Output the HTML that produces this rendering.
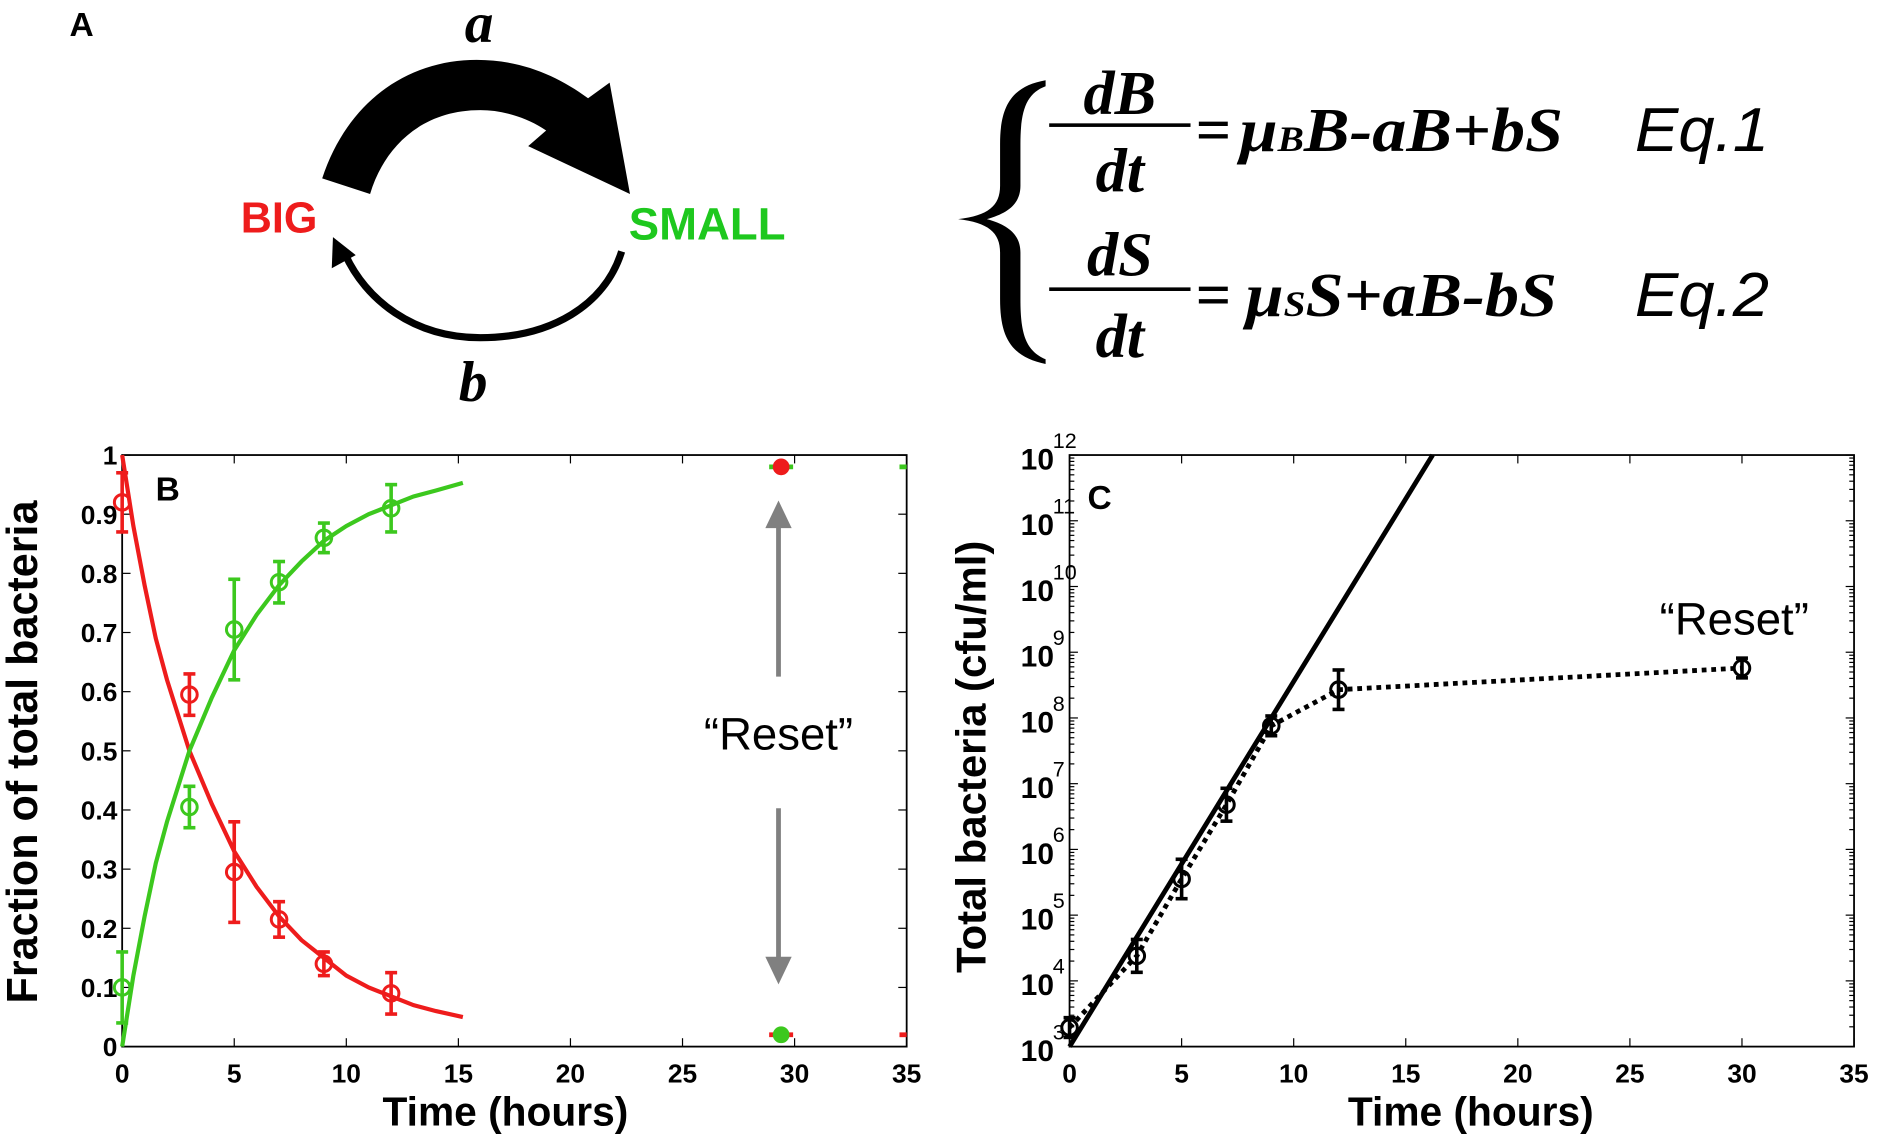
<!DOCTYPE html>
<html><head><meta charset="utf-8"><style>
html,body{margin:0;padding:0;background:#fff;}
svg{display:block;}
.tk{font-family:"Liberation Sans",sans-serif;font-weight:bold;font-size:22px;}
.tkc{font-family:"Liberation Sans",sans-serif;font-weight:bold;font-size:25px;}
</style></head><body>
<svg id="fig" width="1878" height="1140" viewBox="0 0 1568 952" preserveAspectRatio="none" xmlns="http://www.w3.org/2000/svg">
<g>
<text x="58" y="30" font-family="Liberation Sans,sans-serif" font-weight="bold" font-size="28">A</text>
<text x="400" y="35" text-anchor="middle" font-family="Liberation Serif,serif" font-style="italic" font-weight="bold" font-size="48">a</text>
<path d="M269,149 C290,85 340,50 398,50 C435,50 465,63 491,82 L509,69 L526,162 L441,122 L456,109 C440,98 420,92 401,92 C350,92 320,125 309,162 Z" fill="#000"/>
<path d="M519,210 C505,255 460,282 401,282 C345,282 305,250 288,212" fill="none" stroke="#000" stroke-width="6"/>
<polygon points="278,198 277,224 297,213" fill="#000"/>
<text x="395" y="335" text-anchor="middle" font-family="Liberation Serif,serif" font-style="italic" font-weight="bold" font-size="48">b</text>
<text x="201" y="194" font-family="Liberation Sans,sans-serif" font-weight="bold" font-size="36" fill="#ee1c1c">BIG</text>
<text x="525" y="200" font-family="Liberation Sans,sans-serif" font-weight="bold" font-size="38" fill="#1ec81e">SMALL</text>
<path d="M873,67 C845,72 835,88 835,120 L835,155 C835,172 825,180 800,183 C825,186 835,194 835,211 L835,250 C835,283 845,298 873,304 L873,300 C857,293 852,280 852,250 L852,211 C852,196 842,188 824,183 C842,178 852,170 852,155 L852,120 C852,92 857,78 873,72 Z" fill="#000"/>
<g font-family="Liberation Serif,serif" font-style="italic" font-weight="bold" font-size="52">
<text x="935" y="95" text-anchor="middle">dB</text>
<rect x="876" y="103" width="118" height="3" fill="#000"/>
<text x="935" y="160" text-anchor="middle">dt</text>
<text x="998" y="126">=</text>
<text x="1035" y="126" textLength="270" lengthAdjust="spacingAndGlyphs">μ<tspan font-size="30">B</tspan>B-aB+bS</text>
<text x="1365" y="126" font-family="Liberation Sans,sans-serif" font-weight="normal" font-size="52" textLength="112" lengthAdjust="spacingAndGlyphs">Eq.1</text>
</g>
<g font-family="Liberation Serif,serif" font-style="italic" font-weight="bold" font-size="52">
<text x="935" y="230" text-anchor="middle">dS</text>
<rect x="876" y="240" width="118" height="3" fill="#000"/>
<text x="935" y="298" text-anchor="middle">dt</text>
<text x="998" y="264">=</text>
<text x="1040" y="264" textLength="260" lengthAdjust="spacingAndGlyphs">μ<tspan font-size="30">S</tspan>S+aB-bS</text>
<text x="1365" y="264" font-family="Liberation Sans,sans-serif" font-weight="normal" font-size="52" textLength="112" lengthAdjust="spacingAndGlyphs">Eq.2</text>
</g>
</g>
<g id="panelB"></g>
<g id="panelC"></g>
</svg>
<script>
// Panel B data
const bTimes = [0, 3, 5, 7, 9, 12];
const bBig = [0.92, 0.595, 0.295, 0.215, 0.14, 0.09];
const bBigErr = [0.05, 0.035, 0.085, 0.03, 0.02, 0.035];
const bSmall = [0.10, 0.405, 0.705, 0.785, 0.86, 0.91];
const bSmallErr = [0.06, 0.035, 0.085, 0.035, 0.025, 0.04];
const bFitTimes = [0,0.5,1,1.5,2,3,4,5,6,7,8,9,10,11,12,13,14,15.2];
const bFitBig = [1,0.88,0.78,0.69,0.62,0.50,0.41,0.33,0.27,0.22,0.18,0.15,0.12,0.10,0.085,0.07,0.06,0.05];
const bFitSmall = [0,0.12,0.22,0.31,0.38,0.50,0.59,0.67,0.73,0.78,0.82,0.855,0.88,0.90,0.915,0.93,0.94,0.953];
const bResetTime = [29.4];
const bResetBig = [0.98];
const bResetSmall = [0.02];
const bXTicks = [0,5,10,15,20,25,30,35];
const bYTicks = [0,0.1,0.2,0.3,0.4,0.5,0.6,0.7,0.8,0.9,1];
// Panel C data
const cTimes = [0, 3, 5, 7, 9, 12, 30];
const cLogVals = [3.29, 4.38, 5.55, 6.68, 7.88, 8.43, 8.76];
const cLogErr = [0.15, 0.25, 0.3, 0.25, 0.15, 0.3, 0.15];
const cFitTimes = [0, 16.2];
const cFitLog = [3, 12];
const cXTicks = [0,5,10,15,20,25,30,35];
const cYTicks = [3,4,5,6,7,8,9,10,11,12];

const NS = "http://www.w3.org/2000/svg";
function mk(parent, tag, attrs){const e=document.createElementNS(NS,tag);for(const k in attrs)e.setAttribute(k,attrs[k]);parent.appendChild(e);return e;}
const RED="#ee1c1c", GREEN="#3cc81e";

// ---- Panel B ----
(function(){
const g=document.getElementById('panelB');
const L=102,R=757,T=380,B=874;
const x=t=>L+(t/35)*(R-L), y=v=>B-v*(B-T);
let e=mk(g,'rect',{x:L,y:T,width:R-L,height:B-T,fill:'none',stroke:'#000','stroke-width':1.5});


bXTicks.forEach(t=>{
 mk(g,'line',{x1:x(t),x2:x(t),y1:B,y2:B-7,stroke:'#000'});mk(g,'line',{x1:x(t),x2:x(t),y1:T,y2:T+7,stroke:'#000'});
 e=mk(g,'text',{x:x(t),y:B+30,'text-anchor':'middle',class:'tk'});e.textContent=t;
 
 
});
bYTicks.forEach(v=>{
 mk(g,'line',{x1:L,x2:L+7,y1:y(v),y2:y(v),stroke:'#000'});mk(g,'line',{x1:R,x2:R-7,y1:y(v),y2:y(v),stroke:'#000'});
 e=mk(g,'text',{x:L-4,y:y(v)+8,'text-anchor':'end',class:'tk'});e.textContent=v;
 
 
});
function curve(ts,vs,col,name){
 e=mk(g,'polyline',{points:ts.map((t,i)=>x(t)+','+y(vs[i])).join(' '),fill:'none',stroke:col,'stroke-width':3.5});
 
 
}
curve(bFitTimes,bFitBig,RED,'big-fit-curve');
curve(bFitTimes,bFitSmall,GREEN,'small-fit-curve');
function pts(ts,vs,es,col,name){
 ts.forEach((t,i)=>{
  const cx=x(t);
  mk(g,'line',{x1:cx,x2:cx,y1:y(vs[i]-es[i]),y2:y(vs[i]+es[i]),stroke:col,'stroke-width':3});
  mk(g,'line',{x1:cx-5,x2:cx+5,y1:y(vs[i]-es[i]),y2:y(vs[i]-es[i]),stroke:col,'stroke-width':3});
  mk(g,'line',{x1:cx-5,x2:cx+5,y1:y(vs[i]+es[i]),y2:y(vs[i]+es[i]),stroke:col,'stroke-width':3});
  e=mk(g,'circle',{cx:cx,cy:y(vs[i]),r:6.5,fill:'none',stroke:col,'stroke-width':2.5});
  
  
 });
}
pts(bTimes,bBig,bBigErr,RED,'big-point');
pts(bTimes,bSmall,bSmallErr,GREEN,'small-point');
bResetTime.forEach((t,i)=>{
 mk(g,'line',{x1:x(t)-10,x2:x(t)+10,y1:y(bResetBig[i]),y2:y(bResetBig[i]),stroke:GREEN,'stroke-width':4});
 e=mk(g,'circle',{cx:x(t),cy:y(bResetBig[i]),r:6,fill:RED,stroke:RED,'stroke-width':2});
 
 
 mk(g,'line',{x1:x(t)-10,x2:x(t)+10,y1:y(bResetSmall[i]),y2:y(bResetSmall[i]),stroke:RED,'stroke-width':4});
 e=mk(g,'circle',{cx:x(t),cy:y(bResetSmall[i]),r:6,fill:GREEN,stroke:GREEN,'stroke-width':2});
 
 
 mk(g,'line',{x1:R-6,x2:R,y1:y(bResetBig[i]),y2:y(bResetBig[i]),stroke:GREEN,'stroke-width':4});
 mk(g,'line',{x1:R-6,x2:R,y1:y(bResetSmall[i]),y2:y(bResetSmall[i]),stroke:RED,'stroke-width':4});
});
const ax=650;
mk(g,'line',{x1:ax,x2:ax,y1:440,y2:565,stroke:'#808080','stroke-width':4});
mk(g,'polygon',{points:`${ax},418 ${ax-11},441 ${ax+11},441`,fill:'#808080'});
mk(g,'line',{x1:ax,x2:ax,y1:675,y2:800,stroke:'#808080','stroke-width':4});
mk(g,'polygon',{points:`${ax},822 ${ax-11},799 ${ax+11},799`,fill:'#808080'});
e=mk(g,'text',{x:ax,y:626,'text-anchor':'middle','font-family':'Liberation Sans,sans-serif','font-size':38});e.textContent='\u201CReset\u201D';


e=mk(g,'text',{x:130,y:418,'font-family':'Liberation Sans,sans-serif','font-weight':'bold','font-size':28});e.textContent='B';


e=mk(g,'text',{x:422,y:940,'text-anchor':'middle','font-family':'Liberation Sans,sans-serif','font-weight':'bold','font-size':34});e.textContent='Time (hours)';


e=mk(g,'text',{x:0,y:0,'text-anchor':'middle','font-family':'Liberation Sans,sans-serif','font-weight':'bold','font-size':36,transform:`translate(31,628) rotate(-90)`});e.textContent='Fraction of total bacteria';


})();

// ---- Panel C ----
(function(){
const g=document.getElementById('panelC');
const L=893,R=1548,T=380,B=874;
const x=t=>L+(t/35)*(R-L), y=v=>B-(v-3)/9*(B-T);
let e=mk(g,'rect',{x:L,y:T,width:R-L,height:B-T,fill:'none',stroke:'#000','stroke-width':1.5});


cXTicks.forEach(t=>{
 mk(g,'line',{x1:x(t),x2:x(t),y1:B,y2:B-7,stroke:'#000'});mk(g,'line',{x1:x(t),x2:x(t),y1:T,y2:T+7,stroke:'#000'});
 e=mk(g,'text',{x:x(t),y:B+30,'text-anchor':'middle',class:'tk'});e.textContent=t;
 
 
});
cYTicks.forEach(v=>{
 mk(g,'line',{x1:L,x2:L+7,y1:y(v),y2:y(v),stroke:'#000'});mk(g,'line',{x1:R,x2:R-7,y1:y(v),y2:y(v),stroke:'#000'});
 if(v<12)for(let m=2;m<10;m++){const yy=y(v+Math.log10(m));mk(g,'line',{x1:L,x2:L+4,y1:yy,y2:yy,stroke:'#000'});mk(g,'line',{x1:R,x2:R-4,y1:yy,y2:yy,stroke:'#000'});}
 e=mk(g,'text',{x:L-13,y:y(v)+12,'text-anchor':'end',class:'tkc'});e.textContent='10';
 
 
 const s=mk(g,'text',{x:L-14,y:y(v)-6,'font-family':'Liberation Sans,sans-serif','font-size':18});s.textContent=v;
});
e=mk(g,'polyline',{points:cFitTimes.map((t,i)=>x(t)+','+y(cFitLog[i])).join(' '),fill:'none',stroke:'#000','stroke-width':4});


e=mk(g,'polyline',{points:cTimes.map((t,i)=>x(t)+','+y(cLogVals[i])).join(' '),fill:'none',stroke:'#000','stroke-width':4,'stroke-dasharray':'4 4'});


cTimes.forEach((t,i)=>{
 const cx=x(t),lo=y(cLogVals[i]-cLogErr[i]),hi=y(cLogVals[i]+cLogErr[i]);
 mk(g,'line',{x1:cx,x2:cx,y1:lo,y2:hi,stroke:'#000','stroke-width':3});
 mk(g,'line',{x1:cx-5,x2:cx+5,y1:lo,y2:lo,stroke:'#000','stroke-width':3});
 mk(g,'line',{x1:cx-5,x2:cx+5,y1:hi,y2:hi,stroke:'#000','stroke-width':3});
 e=mk(g,'circle',{cx:cx,cy:y(cLogVals[i]),r:6.5,fill:'none',stroke:'#000','stroke-width':2.5});
 
 
});
e=mk(g,'text',{x:1448,y:530,'text-anchor':'middle','font-family':'Liberation Sans,sans-serif','font-size':38});e.textContent='\u201CReset\u201D';


e=mk(g,'text',{x:908,y:425,'font-family':'Liberation Sans,sans-serif','font-weight':'bold','font-size':28});e.textContent='C';


e=mk(g,'text',{x:1228,y:940,'text-anchor':'middle','font-family':'Liberation Sans,sans-serif','font-weight':'bold','font-size':34});e.textContent='Time (hours)';


e=mk(g,'text',{x:0,y:0,'text-anchor':'middle','font-family':'Liberation Sans,sans-serif','font-weight':'bold','font-size':35,transform:`translate(823,632) rotate(-90)`});e.textContent='Total bacteria (cfu/ml)';


})();
</script>
</body></html>
